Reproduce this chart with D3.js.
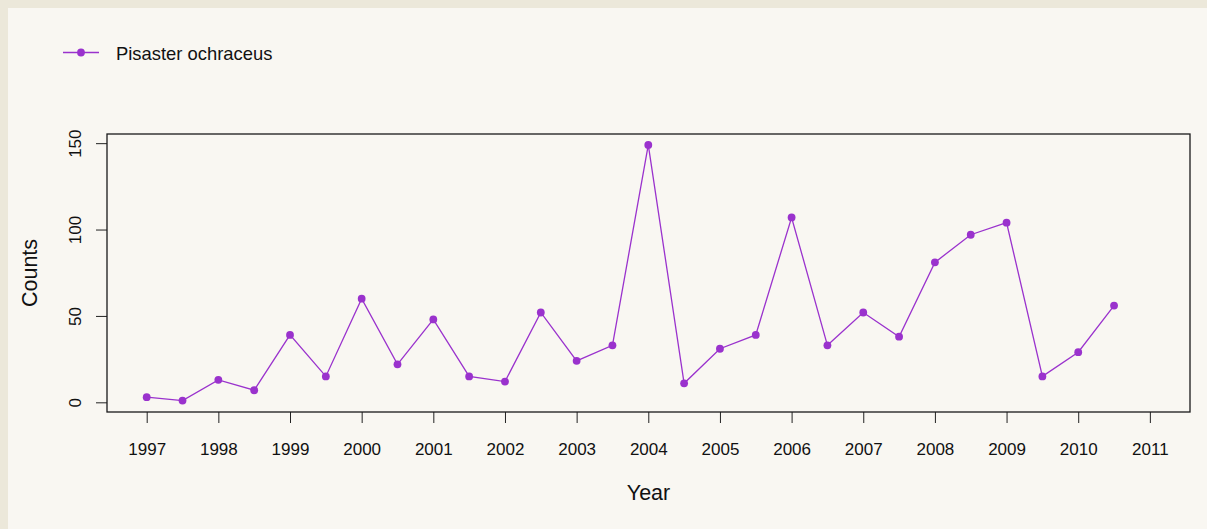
<!DOCTYPE html>
<html>
<head>
<meta charset="utf-8">
<script src="https://cdn.jsdelivr.net/npm/d3@7"></script>
<style>
html,body{margin:0;padding:0;background:#ECE8DA;}
svg{display:block;}
text{font-family:"Liberation Sans",Arial,sans-serif;fill:#111;}
</style>
</head>
<body>
<svg id="chart" width="1207" height="529"></svg>
<script>
const years = [1997,1997.5,1998,1998.5,1999,1999.5,2000,2000.5,2001,2001.5,2002,2002.5,2003,2003.5,2004,2004.5,2005,2005.5,2006,2006.5,2007,2007.5,2008,2008.5,2009,2009.5,2010,2010.5];
const counts = [3,1,13,7,39,15,60,22,48,15,12,52,24,33,149,11,31,39,107,33,52,38,81,97,104,15,29,56];
const xTicks = [1997,1998,1999,2000,2001,2002,2003,2004,2005,2006,2007,2008,2009,2010,2011];
const yTicks = [0,50,100,150];
const seriesName = "Pisaster ochraceus";
const color = "#9A32CD";

const svg = d3.select("#chart");
svg.append("rect").attr("x",8).attr("y",8).attr("width",1199).attr("height",521).attr("fill","#F9F7F2");

const box = {l:107, r:1190, t:134, b:412};
const x = d3.scaleLinear().domain([1996.446, 2011.56]).range([box.l, box.r]);
const y = d3.scaleLinear().domain([-5.6, 155.3]).range([box.b, box.t]);

// axes
const xAxis = svg.append("g").attr("transform",`translate(0,${box.b})`)
  .call(d3.axisBottom(x).tickValues(xTicks).tickFormat(d3.format("d")).tickSize(11).tickPadding(20));
xAxis.select(".domain").remove();
xAxis.selectAll("line").attr("stroke","#222");
xAxis.selectAll("text").style("font-size","17px").attr("fill","#111");

const yAxis = svg.append("g").attr("transform",`translate(${box.l},0)`)
  .call(d3.axisLeft(y).tickValues(yTicks).tickSize(11).tickPadding(0));
yAxis.select(".domain").remove();
yAxis.selectAll("line").attr("stroke","#222");
yAxis.selectAll(".tick text")
  .attr("text-anchor","middle")
  .attr("x",0).attr("y",0).attr("dy","0.72em")
  .attr("transform","translate(-38,0) rotate(-90)")
  .style("font-size","17px").attr("fill","#111");

// box
svg.append("rect").attr("x",box.l).attr("y",box.t).attr("width",box.r-box.l).attr("height",box.b-box.t)
  .attr("fill","none").attr("stroke","#1a1a1a").attr("stroke-width",1.3);

// line & points
const data = years.map((d,i)=>({x:d,y:counts[i]}));
svg.append("path").datum(data)
  .attr("d", d3.line().x(d=>x(d.x)).y(d=>y(d.y)))
  .attr("fill","none").attr("stroke",color).attr("stroke-width",1.3);
svg.append("g").selectAll("circle").data(data).join("circle")
  .attr("cx",d=>x(d.x)).attr("cy",d=>y(d.y)).attr("r",3.9).attr("fill",color);

// axis titles
svg.append("text").attr("x",(box.l+box.r)/2).attr("y",500).attr("text-anchor","middle")
  .style("font-size","21.5px").text("Year");
svg.append("text").attr("transform",`translate(37,${(box.t+box.b)/2}) rotate(-90)`).attr("text-anchor","middle")
  .style("font-size","21.5px").text("Counts");

// legend
const lg = svg.append("g");
lg.append("line").attr("x1",63).attr("x2",99).attr("y1",52.5).attr("y2",52.5).attr("stroke",color).attr("stroke-width",1.3);
lg.append("circle").attr("cx",81).attr("cy",52.5).attr("r",3.9).attr("fill",color);
lg.append("text").attr("x",116).attr("y",59.5).style("font-size","18.4px").text(seriesName);
</script>
</body>
</html>
